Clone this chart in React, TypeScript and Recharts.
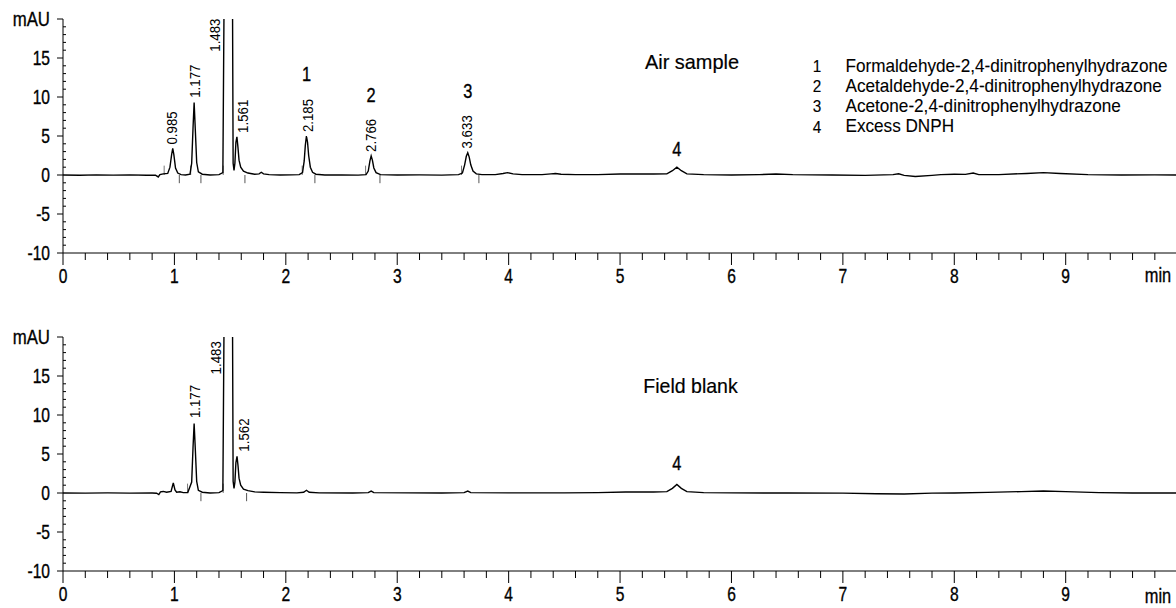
import React from 'react';
import { LineChart, Line, XAxis, YAxis, ReferenceLine, ReferenceDot } from 'recharts';

// ---------- data ----------
const airTrace: [number, number][] = [
  [0.0, 0.0], [0.15, -0.03], [0.3, 0.02], [0.45, -0.02], [0.6, 0.01], [0.75, -0.03], [0.83, -0.02],
  [0.855, -0.25], [0.87, 0.05], [0.9, 0.15], [0.94, 0.2], [0.96, 1.0], [0.975, 2.6], [0.985, 3.4],
  [0.995, 2.6], [1.01, 0.9], [1.03, 0.25], [1.06, 0.05], [1.1, 0.0], [1.14, 0.1], [1.155, 1.5],
  [1.167, 6.0], [1.177, 9.3], [1.187, 6.0], [1.2, 1.6], [1.215, 0.4], [1.25, 0.1], [1.32, 0.0],
  [1.4, 0.05], [1.435, 0.3], [1.447, 25], [1.46, 110], [1.483, 150], [1.505, 110], [1.518, 35],
  [1.527, 1.5], [1.535, 0.6], [1.543, 1.5], [1.552, 4.2], [1.561, 4.9], [1.57, 3.6], [1.58, 1.9],
  [1.595, 1.0], [1.62, 0.5], [1.66, 0.25], [1.72, 0.1], [1.76, 0.15], [1.78, 0.35], [1.8, 0.15],
  [1.85, 0.05], [1.95, 0.0], [2.05, 0.02], [2.12, 0.05], [2.15, 0.3], [2.165, 1.8], [2.175, 3.8],
  [2.185, 5.0], [2.195, 4.2], [2.205, 2.5], [2.22, 1.0], [2.24, 0.35], [2.27, 0.1], [2.35, 0.0],
  [2.5, 0.02], [2.65, -0.02], [2.72, 0.05], [2.74, 0.5], [2.755, 1.8], [2.766, 2.45], [2.777, 1.9],
  [2.79, 0.9], [2.81, 0.3], [2.85, 0.05], [3.0, 0.0], [3.2, 0.02], [3.4, -0.02], [3.55, 0.05],
  [3.585, 0.25], [3.605, 1.3], [3.62, 2.4], [3.633, 2.85], [3.646, 2.3], [3.66, 1.3], [3.68, 0.5],
  [3.71, 0.15], [3.76, 0.05], [3.88, 0.05], [3.95, 0.2], [3.99, 0.3], [4.04, 0.15], [4.12, 0.05],
  [4.3, 0.05], [4.38, 0.15], [4.42, 0.2], [4.47, 0.1], [4.6, 0.05], [4.8, 0.05], [5.0, 0.12],
  [5.3, 0.12], [5.42, 0.15], [5.47, 0.55], [5.51, 1.0], [5.55, 0.55], [5.6, 0.15], [5.75, 0.05],
  [6.0, 0.0], [6.25, 0.05], [6.4, 0.12], [6.55, 0.05], [6.9, 0.0], [7.2, -0.05], [7.45, 0.05],
  [7.5, 0.15], [7.55, -0.05], [7.65, -0.2], [7.8, -0.05], [7.88, 0.05], [8.0, 0.1], [8.1, 0.08],
  [8.17, 0.25], [8.22, 0.05], [8.4, 0.05], [8.65, 0.2], [8.8, 0.3], [8.95, 0.2], [9.2, 0.05],
  [9.5, 0.0], [9.8, 0.02], [9.99, 0.0],
];

const blankTrace: [number, number][] = [
  [0.0, 0.0], [0.2, -0.02], [0.4, 0.01], [0.6, -0.02], [0.8, 0.0], [0.84, -0.03], [0.86, -0.2],
  [0.875, 0.15], [0.9, 0.2], [0.93, 0.1], [0.97, 0.2], [0.99, 1.3], [1.005, 0.4], [1.02, 0.1],
  [1.05, 0.15], [1.08, 0.05], [1.12, 0.05], [1.155, 1.4], [1.167, 5.8], [1.177, 8.9], [1.187, 5.8],
  [1.2, 1.5], [1.215, 0.35], [1.25, 0.1], [1.32, 0.0], [1.4, 0.05], [1.435, 0.3], [1.447, 25],
  [1.46, 110], [1.483, 150], [1.505, 110], [1.518, 35], [1.527, 1.5], [1.535, 0.6], [1.543, 1.4],
  [1.552, 3.9], [1.562, 4.7], [1.571, 3.5], [1.58, 1.9], [1.595, 1.0], [1.62, 0.5], [1.66, 0.3],
  [1.72, 0.15], [1.8, 0.1], [1.95, 0.05], [2.1, 0.02], [2.16, 0.1], [2.185, 0.35], [2.21, 0.1],
  [2.3, 0.02], [2.6, 0.0], [2.74, 0.05], [2.766, 0.25], [2.79, 0.05], [3.1, 0.02], [3.4, 0.0],
  [3.6, 0.05], [3.633, 0.25], [3.66, 0.05], [4.0, 0.02], [4.5, 0.02], [4.8, 0.05], [5.05, 0.12],
  [5.3, 0.12], [5.42, 0.18], [5.47, 0.6], [5.51, 1.1], [5.55, 0.6], [5.6, 0.18], [5.75, 0.05],
  [6.0, 0.02], [6.5, 0.0], [7.0, -0.02], [7.3, -0.1], [7.55, -0.12], [7.8, -0.02], [8.0, 0.0],
  [8.3, 0.08], [8.6, 0.18], [8.8, 0.25], [9.0, 0.18], [9.3, 0.05], [9.6, 0.0], [9.99, 0.0],
];

// integration start (up) / end (down) marks, minutes
const airStartMarks = [0.908, 1.146, 1.438, 2.147, 2.716, 3.577];
const airEndMarks = [1.044, 1.238, 1.633, 2.261, 2.845, 3.733];
const blankStartMarks = [1.118, 1.438];
const blankEndMarks = [1.238, 1.648];

// retention-time labels: time, anchor value (mAU), text, horizontal shift
const airRtLabels = [
  { t: 0.985, v: 3.9, text: '0.985', dx: 0 },
  { t: 1.177, v: 9.9, text: '1.177', dx: 1 },
  { t: 1.483, v: 15.8, text: '1.483', dx: -13 },
  { t: 1.561, v: 5.4, text: '1.561', dx: 6 },
  { t: 2.185, v: 5.5, text: '2.185', dx: 2 },
  { t: 2.766, v: 2.95, text: '2.766', dx: 0 },
  { t: 3.633, v: 3.4, text: '3.633', dx: 0 },
];
const blankRtLabels = [
  { t: 1.177, v: 9.6, text: '1.177', dx: 1 },
  { t: 1.483, v: 15.2, text: '1.483', dx: -12 },
  { t: 1.562, v: 5.3, text: '1.562', dx: 7 },
];

// compound numbers above peaks
const airPeakNumbers = [
  { t: 2.185, v: 13.0, text: '1' },
  { t: 2.766, v: 10.3, text: '2' },
  { t: 3.633, v: 10.8, text: '3' },
  { t: 5.51, v: 3.4, text: '4' },
];
const blankPeakNumbers = [{ t: 5.51, v: 3.9, text: '4' }];

const legendNumbers = ['1', '2', '3', '4'];
const legendNames = [
  'Formaldehyde-2,4-dinitrophenylhydrazone',
  'Acetaldehyde-2,4-dinitrophenylhydrazone',
  'Acetone-2,4-dinitrophenylhydrazone',
  'Excess DNPH',
];
const panelTitles = ['Air sample', 'Field blank'];

const xTicks = [
  0, 0.2, 0.4, 0.6, 0.8, 1, 1.2, 1.4, 1.6, 1.8, 2, 2.2, 2.4, 2.6, 2.8, 3, 3.2, 3.4, 3.6, 3.8,
  4, 4.2, 4.4, 4.6, 4.8, 5, 5.2, 5.4, 5.6, 5.8, 6, 6.2, 6.4, 6.6, 6.8, 7, 7.2, 7.4, 7.6, 7.8,
  8, 8.2, 8.4, 8.6, 8.8, 9, 9.2, 9.4, 9.6, 9.8,
];
const yTicks = [
  -10, -9, -8, -7, -6, -5, -4, -3, -2, -1, 0, 1, 2, 3, 4, 5, 6, 7, 8, 9, 10, 11, 12, 13, 14, 15,
  16, 17, 18, 19, 20,
];
const xUnit = 'min';
const yUnit = 'mAU';

// ---------- styling ----------
const FONT = '"Liberation Sans", Arial, sans-serif';
const W = 1176;
const H = 290;

// condensed text: horizontally squeezed around its anchor point
const CText = ({ x, y, anchor = 'middle', size = 20, sx = 0.78, bold = 0.35, children }: any) => (
  <g transform={`translate(${x},${y}) scale(${sx},1)`}>
    <text
      x={0} y={0} textAnchor={anchor} dominantBaseline="central" fontFamily={FONT} fontSize={size}
      fill="#000" stroke="#000" strokeWidth={bold}
    >
      {children}
    </text>
  </g>
);

const XTick = (props: any) => {
  const { x, y, payload } = props;
  const v = payload.value as number;
  const major = Math.abs(v - Math.round(v)) < 1e-6;
  return (
    <g>
      <line x1={x} x2={x} y1={y} y2={y + (major ? 12 : 7)} stroke="#000" strokeWidth={1} />
      {major && <CText x={x} y={y + 23}>{v}</CText>}
    </g>
  );
};

const YTick = (props: any) => {
  const { x, y, payload } = props;
  const v = payload.value as number;
  const major = v % 5 === 0;
  return (
    <g>
      {major ? (
        <line x1={x - 6} x2={x} y1={y} y2={y} stroke="#000" strokeWidth={1} />
      ) : (
        <line x1={x} x2={x + 3} y1={y} y2={y} stroke="#000" strokeWidth={1} />
      )}
      {major && (
        <CText x={x - 13} y={y} anchor="end" sx={v === 20 ? 0.84 : 0.78}>
          {v === 20 ? yUnit : v}
        </CText>
      )}
    </g>
  );
};

const rotatedLabel = (text: string, dx: number) => (p: any) => {
  const vb = p.viewBox || {};
  const x = (vb.x ?? 0) + (vb.width ?? 0) / 2 + dx;
  const y = (vb.y ?? 0) + (vb.height ?? 0) / 2;
  return (
    <g transform={`translate(${x},${y}) rotate(-90) scale(0.95,1)`}>
      <text x={0} y={0} textAnchor="start" dominantBaseline="central" fontFamily={FONT} fontSize={14} fill="#000">
        {text}
      </text>
    </g>
  );
};

const numberLabel = (text: string) => (p: any) => {
  const vb = p.viewBox || {};
  const x = (vb.x ?? 0) + (vb.width ?? 0) / 2;
  const y = (vb.y ?? 0) + (vb.height ?? 0) / 2;
  return <CText x={x} y={y} size={21}>{text}</CText>;
};

type Lbl = { t: number; v: number; text: string; dx?: number };

const Panel = ({ trace, starts, ends, rtLabels, numbers }: {
  trace: [number, number][]; starts: number[]; ends: number[]; rtLabels: Lbl[]; numbers: Lbl[];
}) => {
  const data = trace.map(([t, v]) => ({ t, v }));
  return (
    <LineChart width={W} height={H} data={data} margin={{ top: 19, right: 0, bottom: 0, left: 0 }}>
      <XAxis
        dataKey="t" type="number" domain={[0, 9.99]} allowDataOverflow ticks={xTicks} interval={0}
        tickSize={0} tickMargin={0} tickLine={false} tick={<XTick />} height={37}
        axisLine={{ stroke: '#000', strokeWidth: 1 }}
      />
      <YAxis
        type="number" domain={[-10, 20]} allowDataOverflow ticks={yTicks} interval={0}
        tickSize={0} tickMargin={0} tickLine={false} tick={<YTick />} width={63}
        axisLine={{ stroke: '#000', strokeWidth: 1 }}
      />
      {starts.map((t) => (
        <ReferenceLine key={'s' + t} segment={[{ x: t, y: 0 }, { x: t, y: 1.2 }]} stroke="#777" strokeWidth={1} />
      ))}
      {ends.map((t) => (
        <ReferenceLine key={'e' + t} segment={[{ x: t, y: 0 }, { x: t, y: -1.05 }]} stroke="#555" strokeWidth={1} />
      ))}
      <Line dataKey="v" type="linear" stroke="#000" strokeWidth={1.4} dot={false} activeDot={false} isAnimationActive={false} />
      {rtLabels.map((l) => (
        <ReferenceDot key={'r' + l.text} x={l.t} y={l.v} r={0} fill="none" stroke="none" label={rotatedLabel(l.text, l.dx ?? 0)} />
      ))}
      {numbers.map((l) => (
        <ReferenceDot key={'n' + l.text + l.t} x={l.t} y={l.v} r={0} fill="none" stroke="none" label={numberLabel(l.text)} />
      ))}
    </LineChart>
  );
};

export default function App() {
  return (
    <div style={{ position: 'absolute', left: 0, top: 0, width: W, height: 608, background: '#fff' }}>
      <div style={{ position: 'absolute', left: 0, top: 0 }}>
        <Panel trace={airTrace} starts={airStartMarks} ends={airEndMarks} rtLabels={airRtLabels} numbers={airPeakNumbers} />
      </div>
      <div style={{ position: 'absolute', left: 0, top: 318 }}>
        <Panel trace={blankTrace} starts={blankStartMarks} ends={blankEndMarks} rtLabels={blankRtLabels} numbers={blankPeakNumbers} />
      </div>
      <svg width={W} height={608} style={{ position: 'absolute', left: 0, top: 0, pointerEvents: 'none' }}>
        <CText x={692} y={61} size={21} sx={0.95} bold={0.2}>{panelTitles[0]}</CText>
        <CText x={690.5} y={386} size={21} sx={0.93} bold={0.2}>{panelTitles[1]}</CText>
        {legendNumbers.map((n, i) => (
          <g key={n}>
            <CText x={817} y={65.5 + i * 20.3} size={17} sx={0.9} bold={0.15}>{n}</CText>
            <CText x={845.5} y={65.5 + i * 20.3} anchor="start" size={17.5} sx={0.98} bold={0.1}>{legendNames[i]}</CText>
          </g>
        ))}
        <CText x={1158} y={275} size={20} sx={0.82}>{xUnit}</CText>
        <CText x={1158} y={596} size={20} sx={0.82}>{xUnit}</CText>
      </svg>
    </div>
  );
}
